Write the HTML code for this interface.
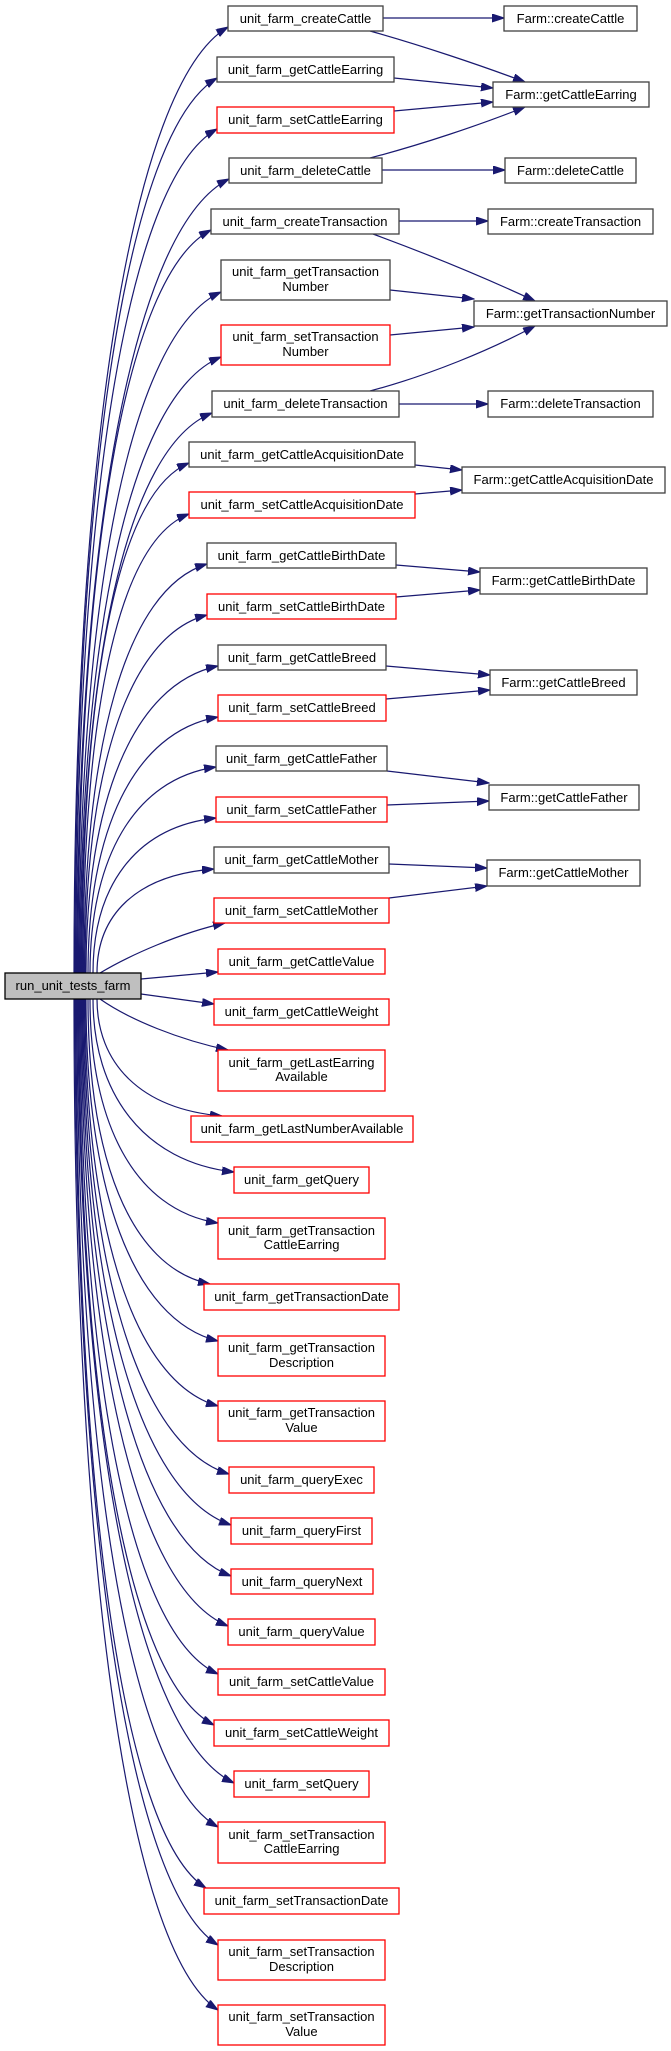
<!DOCTYPE html>
<html><head><meta charset="utf-8"><style>
html,body{margin:0;padding:0;background:#fff;}
svg{display:block;}
text{font-family:"Liberation Sans",Arial,sans-serif;font-size:13px;text-anchor:middle;fill:#000;}
.b{fill:#fff;stroke:#404040;stroke-width:1.3;}
.r{fill:#fff;stroke:#ff0000;stroke-width:1.3;}
.e{fill:none;stroke:#191970;stroke-width:1.2;marker-end:url(#a);}
</style></head><body>
<svg width="671" height="2051" viewBox="0 0 671 2051" xmlns="http://www.w3.org/2000/svg">
<defs><marker id="a" markerUnits="userSpaceOnUse" markerWidth="13" markerHeight="10" refX="12" refY="4" orient="auto"><path d="M0,0 L12,4 L0,8 z" fill="#191970" stroke="#191970"/></marker></defs>

<!-- left edges -->
<path class="e" d="M74,973 C74,453 131,84 228,27"/>
<path class="e" d="M75,973 C75,481 126,132 217,78"/>
<path class="e" d="M76,973 C76,509 126,180 217,129"/>
<path class="e" d="M77,973 C77,536 133,227 229,179"/>
<path class="e" d="M78,973 C78,564 124,275 211,230"/>
<path class="e" d="M79,973 C79,598 130,333 221,292"/>
<path class="e" d="M80,973 C80,634 130,394 221,357"/>
<path class="e" d="M81,973 C81,665 126,447 212,413"/>
<path class="e" d="M82,973 C82,693 115,494 189,463"/>
<path class="e" d="M83,973 C83,721 116,542 189,514"/>
<path class="e" d="M84,973 C84,748 125,589 207,564"/>
<path class="e" d="M85,973 C85,776 126,636 207,615"/>
<path class="e" d="M86,973 C86,804 132,684 218,666"/>
<path class="e" d="M88,973 C88,832 133,732 218,717"/>
<path class="e" d="M90,973 C90,860 133,779 216,767"/>
<path class="e" d="M93,973 C93,888 134,827 216,818"/>
<path class="e" d="M97,973 C97,916 135,875 214,869"/>
<path class="e" d="M100,973 C130,955 180,933 225,923"/>
<path class="e" d="M141,979 L218,972"/>
<path class="e" d="M141,994 L214,1004"/>
<path class="e" d="M100,999 C130,1020 180,1040 228,1050"/>
<path class="e" d="M97,999 C97,1063 140,1109 222,1116"/>
<path class="e" d="M93,999 C93,1094 144,1162 234,1172"/>
<path class="e" d="M90,999 C90,1122 134,1210 218,1223"/>
<path class="e" d="M88,999 C88,1156 129,1267 210,1284"/>
<path class="e" d="M86,999 C86,1187 132,1320 218,1341"/>
<path class="e" d="M85,999 C85,1223 132,1382 218,1406"/>
<path class="e" d="M84,999 C84,1260 137,1446 229,1474"/>
<path class="e" d="M83,999 C83,1288 137,1493 231,1525"/>
<path class="e" d="M82,999 C82,1316 137,1541 231,1576"/>
<path class="e" d="M81,999 C81,1344 135,1588 228,1626"/>
<path class="e" d="M80,999 C80,1370 129,1634 218,1674"/>
<path class="e" d="M79,999 C79,1398 127,1681 214,1725"/>
<path class="e" d="M78,999 C78,1430 136,1736 234,1783"/>
<path class="e" d="M77,999 C77,1454 128,1777 218,1827"/>
<path class="e" d="M76,999 C76,1488 121,1835 206,1888"/>
<path class="e" d="M75,999 C75,1519 127,1888 218,1945"/>
<path class="e" d="M74,999 C74,1555 126,1949 218,2010"/>

<!-- right edges -->
<path class="e" d="M383,18 L504,18"/>
<path class="e" d="M370,31 C420,45 480,65 525,82"/>
<path class="e" d="M394,78 L493,88"/>
<path class="e" d="M394,111 L493,102"/>
<path class="e" d="M370,158 C420,145 480,125 525,107"/>
<path class="e" d="M382,170 L505,170"/>
<path class="e" d="M399,221 L488,221"/>
<path class="e" d="M373,234 C430,255 490,280 535,301"/>
<path class="e" d="M390,290 L474,299"/>
<path class="e" d="M390,335 L474,327"/>
<path class="e" d="M370,391 C430,375 490,350 535,326"/>
<path class="e" d="M399,404 L488,404"/>
<path class="e" d="M415,465 L462,470"/>
<path class="e" d="M415,494 L462,490"/>
<path class="e" d="M396,565 L480,572"/>
<path class="e" d="M396,597 L480,590"/>
<path class="e" d="M386,666 L490,675"/>
<path class="e" d="M386,699 L490,690"/>
<path class="e" d="M387,771 L489,783"/>
<path class="e" d="M387,805 L489,801"/>
<path class="e" d="M389,864 L487,868"/>
<path class="e" d="M389,898 L487,886"/>

<!-- root -->
<rect x="5" y="973" width="136" height="26" fill="#bfbfbf" stroke="#000" stroke-width="1.3"/>
<text x="73" y="990">run_unit_tests_farm</text>

<!-- column 2 -->
<rect class="b" x="228" y="6" width="155" height="25"/><text x="305.5" y="23">unit_farm_createCattle</text>
<rect class="b" x="217" y="57" width="177" height="25"/><text x="305.5" y="74">unit_farm_getCattleEarring</text>
<rect class="r" x="217" y="107" width="177" height="26"/><text x="305.5" y="124">unit_farm_setCattleEarring</text>
<rect class="b" x="229" y="158" width="153" height="25"/><text x="305.5" y="175">unit_farm_deleteCattle</text>
<rect class="b" x="211" y="209" width="188" height="25"/><text x="305" y="226">unit_farm_createTransaction</text>
<rect class="b" x="221" y="260" width="169" height="40"/><text x="305.5" y="276">unit_farm_getTransaction</text><text x="305.5" y="291">Number</text>
<rect class="r" x="221" y="325" width="169" height="40"/><text x="305.5" y="341">unit_farm_setTransaction</text><text x="305.5" y="356">Number</text>
<rect class="b" x="212" y="391" width="187" height="26"/><text x="305.5" y="408">unit_farm_deleteTransaction</text>
<rect class="b" x="189" y="442" width="226" height="25"/><text x="302" y="459">unit_farm_getCattleAcquisitionDate</text>
<rect class="r" x="189" y="492" width="226" height="26"/><text x="302" y="509">unit_farm_setCattleAcquisitionDate</text>
<rect class="b" x="207" y="543" width="189" height="25"/><text x="301.5" y="560">unit_farm_getCattleBirthDate</text>
<rect class="r" x="207" y="594" width="189" height="25"/><text x="301.5" y="611">unit_farm_setCattleBirthDate</text>
<rect class="b" x="218" y="645" width="168" height="25"/><text x="302" y="662">unit_farm_getCattleBreed</text>
<rect class="r" x="218" y="695" width="168" height="26"/><text x="302" y="712">unit_farm_setCattleBreed</text>
<rect class="b" x="216" y="746" width="171" height="25"/><text x="301.5" y="763">unit_farm_getCattleFather</text>
<rect class="r" x="216" y="797" width="171" height="25"/><text x="301.5" y="814">unit_farm_setCattleFather</text>
<rect class="b" x="214" y="847" width="175" height="26"/><text x="301.5" y="864">unit_farm_getCattleMother</text>
<rect class="r" x="214" y="898" width="175" height="25"/><text x="301.5" y="915">unit_farm_setCattleMother</text>
<rect class="r" x="218" y="949" width="167" height="25"/><text x="301.5" y="966">unit_farm_getCattleValue</text>
<rect class="r" x="214" y="999" width="175" height="26"/><text x="301.5" y="1016">unit_farm_getCattleWeight</text>
<rect class="r" x="218" y="1050" width="167" height="41"/><text x="301.5" y="1067">unit_farm_getLastEarring</text><text x="301.5" y="1081">Available</text>
<rect class="r" x="191" y="1116" width="222" height="26"/><text x="302" y="1133">unit_farm_getLastNumberAvailable</text>
<rect class="r" x="234" y="1167" width="135" height="26"/><text x="301.5" y="1184">unit_farm_getQuery</text>
<rect class="r" x="218" y="1218" width="167" height="41"/><text x="301.5" y="1235">unit_farm_getTransaction</text><text x="301.5" y="1249">CattleEarring</text>
<rect class="r" x="204" y="1284" width="195" height="26"/><text x="301.5" y="1301">unit_farm_getTransactionDate</text>
<rect class="r" x="218" y="1336" width="167" height="40"/><text x="301.5" y="1352">unit_farm_getTransaction</text><text x="301.5" y="1367">Description</text>
<rect class="r" x="218" y="1401" width="167" height="40"/><text x="301.5" y="1417">unit_farm_getTransaction</text><text x="301.5" y="1432">Value</text>
<rect class="r" x="229" y="1467" width="145" height="26"/><text x="301.5" y="1484">unit_farm_queryExec</text>
<rect class="r" x="231" y="1518" width="141" height="26"/><text x="301.5" y="1535">unit_farm_queryFirst</text>
<rect class="r" x="231" y="1569" width="142" height="25"/><text x="302" y="1586">unit_farm_queryNext</text>
<rect class="r" x="228" y="1619" width="147" height="26"/><text x="301.5" y="1636">unit_farm_queryValue</text>
<rect class="r" x="218" y="1669" width="167" height="26"/><text x="301.5" y="1686">unit_farm_setCattleValue</text>
<rect class="r" x="214" y="1720" width="175" height="26"/><text x="301.5" y="1737">unit_farm_setCattleWeight</text>
<rect class="r" x="234" y="1771" width="135" height="26"/><text x="301.5" y="1788">unit_farm_setQuery</text>
<rect class="r" x="218" y="1822" width="167" height="41"/><text x="301.5" y="1839">unit_farm_setTransaction</text><text x="301.5" y="1853">CattleEarring</text>
<rect class="r" x="204" y="1888" width="195" height="26"/><text x="301.5" y="1905">unit_farm_setTransactionDate</text>
<rect class="r" x="218" y="1940" width="167" height="40"/><text x="301.5" y="1956">unit_farm_setTransaction</text><text x="301.5" y="1971">Description</text>
<rect class="r" x="218" y="2005" width="167" height="40"/><text x="301.5" y="2021">unit_farm_setTransaction</text><text x="301.5" y="2036">Value</text>

<!-- column 3 -->
<rect class="b" x="504" y="6" width="133" height="25"/><text x="570.5" y="23">Farm::createCattle</text>
<rect class="b" x="493" y="82" width="156" height="25"/><text x="571" y="99">Farm::getCattleEarring</text>
<rect class="b" x="505" y="158" width="131" height="25"/><text x="570.5" y="175">Farm::deleteCattle</text>
<rect class="b" x="488" y="209" width="165" height="25"/><text x="570.5" y="226">Farm::createTransaction</text>
<rect class="b" x="474" y="301" width="193" height="25"/><text x="570.5" y="318">Farm::getTransactionNumber</text>
<rect class="b" x="488" y="391" width="165" height="26"/><text x="570.5" y="408">Farm::deleteTransaction</text>
<rect class="b" x="462" y="467" width="203" height="26"/><text x="563.5" y="484">Farm::getCattleAcquisitionDate</text>
<rect class="b" x="480" y="568" width="167" height="26"/><text x="563.5" y="585">Farm::getCattleBirthDate</text>
<rect class="b" x="490" y="670" width="147" height="25"/><text x="563.5" y="687">Farm::getCattleBreed</text>
<rect class="b" x="489" y="785" width="150" height="25"/><text x="564" y="802">Farm::getCattleFather</text>
<rect class="b" x="487" y="860" width="153" height="26"/><text x="563.5" y="877">Farm::getCattleMother</text>
</svg>
</body></html>
